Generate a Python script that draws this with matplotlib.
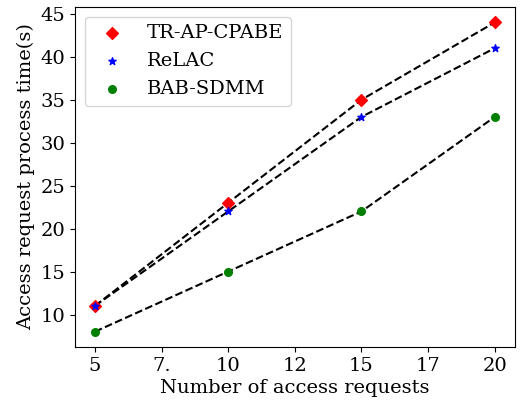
import matplotlib
matplotlib.use('Agg')
import matplotlib.pyplot as plt

plt.rcParams['font.family'] = 'DejaVu Serif'

requests = [5, 10, 15, 20]
tr_ap_cpabe = [11, 23, 35, 44]
relac = [11, 22, 33, 41]
bab_sdmm = [8, 15, 22, 33]
xticks = [5, 7.5, 10, 12.5, 15, 17.5, 20]
xtick_labels = ['5', '7.', '10', '12', '15', '17', '20']

fig = plt.figure(figsize=(5.2, 4.07), dpi=100)
ax = fig.add_axes([0.144, 0.147, 0.846, 0.836])

ax.plot(requests, tr_ap_cpabe, 'k--', zorder=1)
ax.plot(requests, relac, 'k--', zorder=1)
ax.plot(requests, bab_sdmm, 'k--', zorder=1)
ax.scatter(requests, tr_ap_cpabe, c='r', marker='D', s=36, label='TR-AP-CPABE', zorder=2)
ax.scatter(requests, relac, c='b', marker='*', s=30, label='ReLAC', zorder=2)
ax.scatter(requests, bab_sdmm, c='g', marker='o', s=30, label='BAB-SDMM', zorder=2)

ax.set_xticks(xticks)
ax.set_xticklabels(xtick_labels)
ax.tick_params(labelsize=14)
ax.set_xlabel('Number of access requests', fontsize=14, labelpad=3)
ax.set_ylabel('Access request process time(s)', fontsize=14)
ax.legend(fontsize=14, loc='upper left')

fig.savefig('out.png', dpi=100)
